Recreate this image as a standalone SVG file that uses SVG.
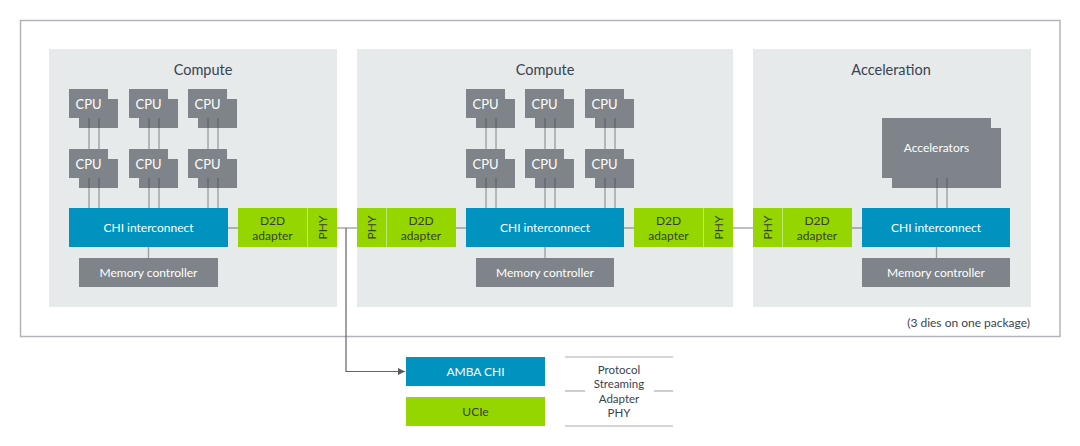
<svg xmlns="http://www.w3.org/2000/svg" width="1080" height="446" viewBox="0 0 1080 446">
<defs>
<style>
text{font-family:Lato,"Open Sans","Liberation Sans",sans-serif;text-anchor:middle}
.die{fill:#e6eaeb}
.gray{fill:#7e8489}
.blue{fill:#0093bf}
.green{fill:#95d500}
.sep{stroke:#bfe872;stroke-width:1}
.wt{fill:#ffffff;font-size:12px}
.cpu{fill:#ffffff;font-size:13px}
.gt{fill:#37412d;font-size:12px}
.title{fill:#3a4350;font-size:14.5px}
.ln{stroke:#3c4146;stroke-opacity:0.45;stroke-width:1.3;fill:none}
.leg{stroke:#a8acaf;stroke-width:1.2}
.lt{fill:#3a4350;font-size:11.5px}
</style>
<marker id="arr" markerWidth="8" markerHeight="8" refX="7" refY="4" orient="auto" markerUnits="userSpaceOnUse">
<path d="M0,0.5 L7,4 L0,7.5 Z" fill="#555b60"/>
</marker>
</defs>
<rect x="0" y="0" width="1080" height="446" fill="#ffffff"/>
<g id="package">
<rect x="20.5" y="20.5" width="1039.5" height="316" fill="#ffffff" stroke="#b2b5b8" stroke-width="1.5"/>
<text class="lt" x="1030" y="327" style="text-anchor:end;font-size:12px">(3 dies on one package)</text>
</g>
<g id="die1"><rect class="die" x="49" y="49" width="288" height="258"/><text class="title" x="203" y="75">Compute</text></g>
<g id="die2"><rect class="die" x="357" y="49" width="376" height="258"/><text class="title" x="545" y="75">Compute</text></g>
<g id="die3"><rect class="die" x="753" y="49" width="278" height="258"/><text class="title" x="891" y="75">Acceleration</text></g>

<g id="d1-cpu1"><rect class="gray" x="79" y="99" width="39" height="29"/><rect class="gray" x="69" y="89" width="39" height="29"/><text class="cpu" x="88.5" y="108.5">CPU</text></g>
<g id="d1-cpu2"><rect class="gray" x="139" y="99" width="39" height="29"/><rect class="gray" x="129" y="89" width="39" height="29"/><text class="cpu" x="148.5" y="108.5">CPU</text></g>
<g id="d1-cpu3"><rect class="gray" x="198" y="99" width="39" height="29"/><rect class="gray" x="188" y="89" width="39" height="29"/><text class="cpu" x="207.5" y="108.5">CPU</text></g>
<g id="d1-cpu4"><rect class="gray" x="79" y="159" width="39" height="29"/><rect class="gray" x="69" y="149" width="39" height="29"/><text class="cpu" x="88.5" y="168.5">CPU</text></g>
<g id="d1-cpu5"><rect class="gray" x="139" y="159" width="39" height="29"/><rect class="gray" x="129" y="149" width="39" height="29"/><text class="cpu" x="148.5" y="168.5">CPU</text></g>
<g id="d1-cpu6"><rect class="gray" x="198" y="159" width="39" height="29"/><rect class="gray" x="188" y="149" width="39" height="29"/><text class="cpu" x="207.5" y="168.5">CPU</text></g>

<g id="d2-cpu1"><rect class="gray" x="476" y="99" width="39" height="29"/><rect class="gray" x="466" y="89" width="39" height="29"/><text class="cpu" x="485.5" y="108.5">CPU</text></g>
<g id="d2-cpu2"><rect class="gray" x="535" y="99" width="39" height="29"/><rect class="gray" x="525" y="89" width="39" height="29"/><text class="cpu" x="544.5" y="108.5">CPU</text></g>
<g id="d2-cpu3"><rect class="gray" x="595" y="99" width="39" height="29"/><rect class="gray" x="585" y="89" width="39" height="29"/><text class="cpu" x="604.5" y="108.5">CPU</text></g>
<g id="d2-cpu4"><rect class="gray" x="476" y="159" width="39" height="29"/><rect class="gray" x="466" y="149" width="39" height="29"/><text class="cpu" x="485.5" y="168.5">CPU</text></g>
<g id="d2-cpu5"><rect class="gray" x="535" y="159" width="39" height="29"/><rect class="gray" x="525" y="149" width="39" height="29"/><text class="cpu" x="544.5" y="168.5">CPU</text></g>
<g id="d2-cpu6"><rect class="gray" x="595" y="159" width="39" height="29"/><rect class="gray" x="585" y="149" width="39" height="29"/><text class="cpu" x="604.5" y="168.5">CPU</text></g>

<g id="accel"><rect class="gray" x="892" y="128" width="109" height="60"/><rect class="gray" x="882" y="118" width="109" height="60"/><text class="wt" x="936.5" y="152">Accelerators</text></g>

<g id="d1-chi"><rect class="blue" x="69" y="208" width="159" height="39"/><text class="wt" x="148.5" y="232">CHI interconnect</text></g>
<g id="d2-chi"><rect class="blue" x="466" y="208" width="158" height="39"/><text class="wt" x="545" y="232">CHI interconnect</text></g>
<g id="d3-chi"><rect class="blue" x="862" y="208" width="148" height="39"/><text class="wt" x="936" y="232">CHI interconnect</text></g>

<g id="d1-mem"><rect class="gray" x="79" y="258" width="139" height="29"/><text class="wt" x="148.5" y="277">Memory controller</text></g>
<g id="d2-mem"><rect class="gray" x="476" y="258" width="138" height="29"/><text class="wt" x="545" y="277">Memory controller</text></g>
<g id="d3-mem"><rect class="gray" x="862" y="258" width="148" height="29"/><text class="wt" x="936" y="277">Memory controller</text></g>

<g id="d1-d2d"><rect class="green" x="238" y="208" width="69.5" height="39"/><text class="gt" x="272.5" y="225">D2D</text><text class="gt" x="272.5" y="240">adapter</text></g>
<g id="d1-phy"><rect class="green" x="307.5" y="208" width="29.5" height="39"/><line class="sep" x1="307.5" y1="208" x2="307.5" y2="247"/><text class="gt" transform="translate(326.5,227.5) rotate(-90)" x="0" y="0">PHY</text></g>
<g id="d2-phyl"><rect class="green" x="357" y="208" width="29" height="39"/><text class="gt" transform="translate(376,227.5) rotate(-90)" x="0" y="0">PHY</text></g>
<g id="d2-d2dl"><rect class="green" x="386" y="208" width="70" height="39"/><line class="sep" x1="386.5" y1="208" x2="386.5" y2="247"/><text class="gt" x="421" y="225">D2D</text><text class="gt" x="421" y="240">adapter</text></g>
<g id="d2-d2dr"><rect class="green" x="634" y="208" width="69.5" height="39"/><text class="gt" x="668.5" y="225">D2D</text><text class="gt" x="668.5" y="240">adapter</text></g>
<g id="d2-phyr"><rect class="green" x="703.5" y="208" width="29.5" height="39"/><line class="sep" x1="703.5" y1="208" x2="703.5" y2="247"/><text class="gt" transform="translate(722.5,227.5) rotate(-90)" x="0" y="0">PHY</text></g>
<g id="d3-phy"><rect class="green" x="753" y="208" width="29" height="39"/><text class="gt" transform="translate(772,227.5) rotate(-90)" x="0" y="0">PHY</text></g>
<g id="d3-d2d"><rect class="green" x="782" y="208" width="70" height="39"/><line class="sep" x1="782.5" y1="208" x2="782.5" y2="247"/><text class="gt" x="817" y="225">D2D</text><text class="gt" x="817" y="240">adapter</text></g>

<g id="connectors">
<path class="ln" d="M89,118V149M99,118V149M89,178V208M99,178V208"/>
<path class="ln" d="M149,118V149M159,118V149M149,178V208M159,178V208"/>
<path class="ln" d="M208,118V149M218,118V149M208,178V208M218,178V208"/>
<path class="ln" d="M486,118V149M496,118V149M486,178V208M496,178V208"/>
<path class="ln" d="M545,118V149M555,118V149M545,178V208M555,178V208"/>
<path class="ln" d="M605,118V149M615,118V149M605,178V208M615,178V208"/>
<path class="ln" d="M937,178V208M947,178V208"/>
<path class="ln" d="M148.5,247V258M545,247V258M936.5,247V258"/>
<path class="ln" d="M228,228H238M456,228H466M624,228H634M852,228H862"/>
<path class="ln" d="M337,228H357M733,228H753"/>
<path d="M346,228V371.5H405" fill="none" stroke="#5f656a" stroke-width="1.2" marker-end="url(#arr)"/>
</g>

<g id="legend-amba"><rect class="blue" x="406" y="357" width="139" height="29"/><text class="wt" x="475.5" y="376">AMBA CHI</text></g>
<g id="legend-ucie"><rect class="green" x="406" y="397" width="139" height="29"/><text class="gt" x="475.5" y="416">UCIe</text></g>
<g id="legend-text">
<line class="leg" x1="565" y1="357" x2="673" y2="357"/>
<line class="leg" x1="565" y1="391" x2="585" y2="391"/>
<line class="leg" x1="654" y1="391" x2="673" y2="391"/>
<line class="leg" x1="565" y1="426" x2="673" y2="426"/>
<text class="lt" x="619" y="374">Protocol</text>
<text class="lt" x="619" y="388">Streaming</text>
<text class="lt" x="619" y="403">Adapter</text>
<text class="lt" x="619" y="417">PHY</text>
</g>
</svg>
